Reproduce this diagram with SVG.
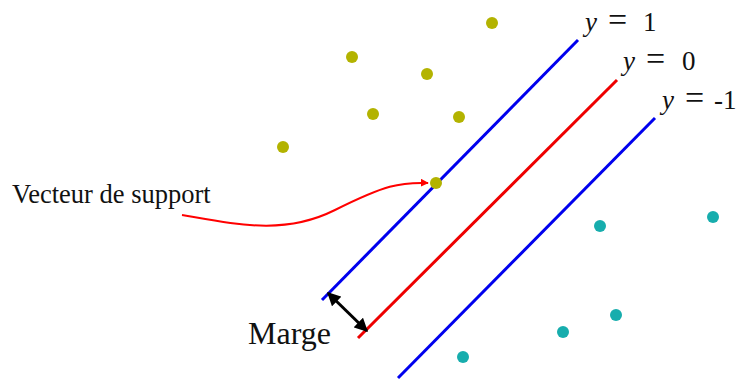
<svg xmlns="http://www.w3.org/2000/svg" width="740" height="381" viewBox="0 0 740 381">
<style>
.pa{fill:#b3b300}
.pb{fill:#17adad}
.lbl{font-family:"Liberation Serif",serif;fill:#111}
.eq{font-family:"Liberation Serif",serif;font-size:27px;fill:#111}
.eq .v{font-style:italic}
.eq .o{font-size:34px}
</style>
<defs>
<marker id="ar" viewBox="0 0 10 10" refX="9" refY="5" markerWidth="4" markerHeight="4" orient="auto"><path d="M0,0 L10,5 L0,10 z" fill="#f00"/></marker>
<marker id="ak" viewBox="0 0 10 10" refX="9" refY="5" markerWidth="4.5" markerHeight="4.5" orient="auto-start-reverse"><path d="M0,0 L10,5 L0,10 z" fill="#000"/></marker>
</defs>
<g id="lines">
<line x1="322" y1="300" x2="578" y2="40" stroke="#0000ee" stroke-width="3"/>
<line x1="358" y1="338" x2="617" y2="80" stroke="#ee0000" stroke-width="3"/>
<line x1="398" y1="378" x2="655" y2="118" stroke="#0000ee" stroke-width="3"/>
</g>
<g id="points-a">
<circle class="pa" cx="492" cy="23" r="6"/>
<circle class="pa" cx="352" cy="57" r="6"/>
<circle class="pa" cx="427" cy="74" r="6"/>
<circle class="pa" cx="373" cy="114" r="6"/>
<circle class="pa" cx="459" cy="117" r="6"/>
<circle class="pa" cx="283" cy="147" r="6"/>
<circle class="pa" cx="436" cy="183" r="6"/>
</g>
<g id="points-b">
<circle class="pb" cx="600" cy="226" r="6"/>
<circle class="pb" cx="713" cy="217" r="6"/>
<circle class="pb" cx="616" cy="315" r="6"/>
<circle class="pb" cx="563" cy="332" r="6"/>
<circle class="pb" cx="463" cy="357" r="6"/>
</g>
<g id="connectors">
<path d="M182,215 C240,225 285,235 335,210 S400,182 428,183" fill="none" stroke="#f00" stroke-width="2" marker-end="url(#ar)"/>
<line x1="328" y1="293" x2="367" y2="331" stroke="#000" stroke-width="3" marker-start="url(#ak)" marker-end="url(#ak)"/>
</g>
<g id="labels">
<text class="eq" y="31"><tspan class="v" x="585">y</tspan><tspan class="o" x="608">=</tspan><tspan x="643">1</tspan></text>
<text class="eq" y="70"><tspan class="v" x="623">y</tspan><tspan class="o" x="646">=</tspan><tspan x="682">0</tspan></text>
<text class="eq" y="109"><tspan class="v" x="662">y</tspan><tspan class="o" x="685">=</tspan><tspan x="714">-1</tspan></text>
<text class="lbl" x="12" y="203" font-size="26.5">Vecteur de support</text>
<text class="lbl" x="248" y="344" font-size="32">Marge</text>
</g>
</svg>
